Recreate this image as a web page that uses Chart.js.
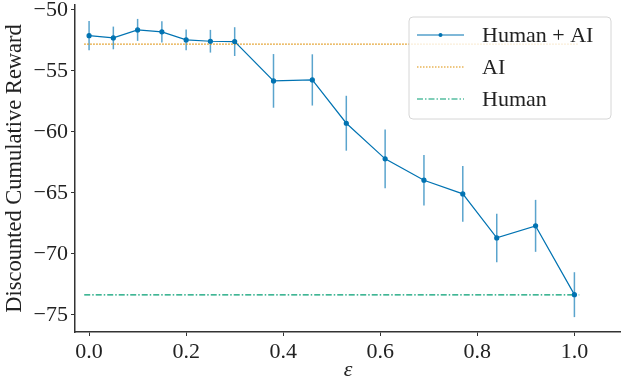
<!DOCTYPE html>
<html>
<head>
<meta charset="utf-8">
<script src="https://cdn.jsdelivr.net/npm/chart.js@4/dist/chart.umd.min.js"></script>
<style>
  html, body { margin: 0; padding: 0; background: #fff; overflow: hidden; }
</style>
</head>
<body>
<canvas id="chart" width="621" height="379"></canvas>
<script>
// values
const epsilon = [0.0, 0.05, 0.1, 0.15, 0.2, 0.25, 0.3, 0.38, 0.46, 0.53, 0.61, 0.69, 0.77, 0.84, 0.92, 1.0];
const humanAI = [-52.11, -52.30, -51.64, -51.80, -52.46, -52.57, -52.60, -55.82, -55.74, -59.29, -62.21, -63.96, -65.08, -68.69, -67.70, -73.34];
const humanAIErr = [1.19, 0.93, 0.90, 0.87, 0.85, 0.93, 1.18, 2.20, 2.10, 2.25, 2.40, 2.07, 2.28, 1.99, 2.13, 1.84];
const aiReward = -52.81;
const humanReward = -73.36;
const refSpan = [-0.01, 1.01];
const xTicks = [0.0, 0.2, 0.4, 0.6, 0.8, 1.0];
const yTicks = [-75, -70, -65, -60, -55, -50];
const labels = ['Human + AI', 'AI', 'Human'];

const FONT = 'Liberation Serif, Times New Roman, serif';
const BLUE = '#0173b2', ORANGE = '#de8f05', GREEN = '#029e73';

const minus = v => (v < 0 ? '\u2212' : '') + Math.abs(v);

// vertical error bars through the scales
const errorBars = {
  id: 'errorBars',
  beforeDatasetsDraw(chart) {
    const { ctx, scales: { x, y } } = chart;
    ctx.save();
    ctx.strokeStyle = 'rgba(1,115,178,0.65)';
    ctx.lineWidth = 1.5;
    epsilon.forEach((e, i) => {
      const px = x.getPixelForValue(e);
      ctx.beginPath();
      ctx.moveTo(px, y.getPixelForValue(humanAI[i] + humanAIErr[i]));
      ctx.lineTo(px, y.getPixelForValue(humanAI[i] - humanAIErr[i]));
      ctx.stroke();
    });
    ctx.restore();
  }
};

// matplotlib style legend box in upper right
const boxLegend = {
  id: 'boxLegend',
  afterDraw(chart) {
    const { ctx, chartArea } = chart;
    const bx = chartArea.right - 212, by = chartArea.top + 12, bw = 202, bh = 102;
    ctx.save();
    ctx.beginPath();
    ctx.roundRect(bx, by, bw, bh, 4);
    ctx.fillStyle = 'rgba(255,255,255,0.8)';
    ctx.fill();
    ctx.strokeStyle = '#d6d6d6';
    ctx.lineWidth = 1;
    ctx.stroke();
    chart.data.datasets.forEach((ds, i) => {
      const ry = by + 18 + i * 32;
      const lx = bx + 8;
      ctx.beginPath();
      ctx.setLineDash(ds.borderDash || []);
      ctx.strokeStyle = ds.borderColor;
      ctx.lineWidth = ds.borderWidth;
      ctx.moveTo(lx, ry);
      ctx.lineTo(lx + 47, ry);
      ctx.stroke();
      ctx.setLineDash([]);
      if (ds.pointRadius > 0) {
        ctx.beginPath();
        ctx.arc(lx + 23.5, ry, ds.pointRadius, 0, Math.PI * 2);
        ctx.fillStyle = ds.borderColor;
        ctx.fill();
      }
      ctx.fillStyle = '#222';
      ctx.font = '22px ' + FONT;
      ctx.textBaseline = 'middle';
      ctx.fillText(ds.label, bx + 73, ry + 1);
    });
    ctx.restore();
  }
};

new Chart(document.getElementById('chart'), {
  type: 'line',
  data: {
    datasets: [{
      label: labels[0],
      data: epsilon.map((e, i) => ({ x: e, y: humanAI[i] })),
      borderColor: BLUE,
      backgroundColor: BLUE,
      borderWidth: 1.2,
      pointRadius: 2,
      pointHoverRadius: 2,
      tension: 0
    }, {
      label: labels[1],
      data: refSpan.map(e => ({ x: e, y: aiReward })),
      borderColor: ORANGE,
      borderWidth: 1.2,
      borderDash: [1.5, 1.5],
      pointRadius: 0
    }, {
      label: labels[2],
      data: refSpan.map(e => ({ x: e, y: humanReward })),
      borderColor: GREEN,
      borderWidth: 1.2,
      borderDash: [6, 2, 1.5, 2],
      pointRadius: 0
    }]
  },
  options: {
    responsive: false,
    animation: false,
    layout: { autoPadding: false, padding: { top: 5, right: 0, left: 0, bottom: 0 } },
    plugins: { legend: { display: false }, tooltip: { enabled: false } },
    scales: {
      x: {
        type: 'linear',
        min: -0.029,
        max: 1.096,
        afterBuildTicks(scale) { scale.ticks = xTicks.map(v => ({ value: v })); },
        afterFit(scale) {
          scale.height = 47;
          scale.paddingLeft = scale.paddingRight = 0;
        },
        border: { display: true, color: '#333', width: 1.5 },
        grid: { drawOnChartArea: false, drawTicks: true, tickLength: 4, color: '#333' },
        ticks: {
          color: '#222',
          padding: 3,
          maxRotation: 0,
          font: { family: FONT, size: 22 },
          callback: v => v.toFixed(1)
        },
        title: {
          display: true,
          text: 'ε',
          color: '#222',
          padding: { top: 0, bottom: 0 },
          font: { family: FONT, size: 22, style: 'italic', lineHeight: 0.8 }
        }
      },
      y: {
        min: -76.4,
        max: -49.6,
        afterBuildTicks(scale) { scale.ticks = yTicks.map(v => ({ value: v })); },
        afterFit(scale) {
          scale.width = 75;
          scale.paddingTop = scale.paddingBottom = 0;
        },
        border: { display: true, color: '#333', width: 1.5 },
        grid: { drawOnChartArea: false, drawTicks: true, tickLength: 4, color: '#333' },
        ticks: {
          color: '#222',
          padding: 3,
          font: { family: FONT, size: 22 },
          callback: v => minus(v)
        },
        title: {
          display: true,
          text: 'Discounted Cumulative Reward',
          color: '#222',
          padding: { top: 2, bottom: 0 },
          font: { family: FONT, size: 22.5 }
        }
      }
    }
  },
  plugins: [errorBars, boxLegend]
});
</script>
</body>
</html>
